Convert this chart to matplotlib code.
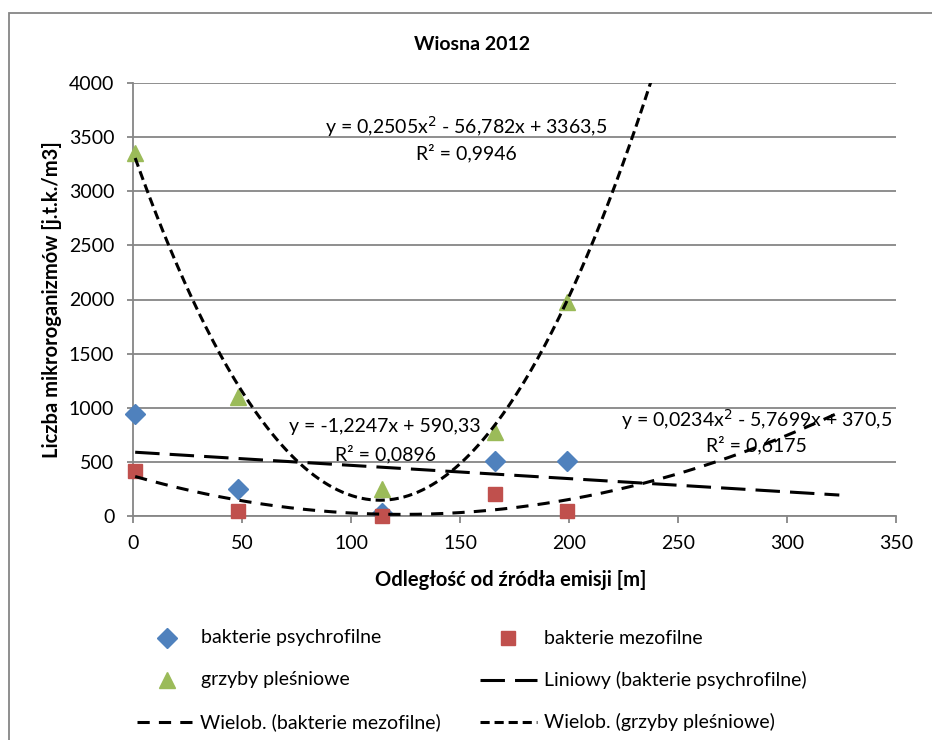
import numpy as np
import matplotlib

matplotlib.use("Agg")
import matplotlib.pyplot as plt
from matplotlib.lines import Line2D
from matplotlib.patches import Rectangle

plt.rcParams["font.family"] = ["Lato", "DejaVu Sans"]

W, H = 932, 740
FS = 14

# data
odleglosc = [1, 48, 114, 166, 199]
psychro = [940, 250, 25, 510, 510]
mezo = [415, 45, 0, 200, 45]
grzyby = [3350, 1100, 250, 780, 1980]

# trendline coefficients as printed on the chart (highest power first)
coef_psychro = [-1.2247, 590.33]
coef_mezo = [0.0234, -5.7699, 370.5]
coef_grzyby = [0.2505, -56.782, 3363.5]
trend_end = 324

eq_psychro = ["y = -1,2247x + 590,33", "R² = 0,0896"]
eq_mezo = ["y = 0,0234x$^{2}$ - 5,7699x + 370,5", "R² = 0,6175"]
eq_grzyby = ["y = 0,2505x$^{2}$ - 56,782x + 3363,5", "R² = 0,9946"]

BLUE, RED, GREEN = "#4F81BD", "#C0504D", "#9BBB59"
GRID = "#868686"

# dash patterns in linewidth units
LONG_DASH = (0, (8, 3.3))
DASH = (0, (4, 3))
SHORT_DASH = (0, (3, 1.6))

fig = plt.figure(figsize=(W / 100, H / 100), dpi=100)
ax = fig.add_axes([133 / W, 1 - 516 / H, (896 - 133) / W, (516 - 83) / H])

ax.plot(odleglosc, psychro, "D", color=BLUE, ms=10, mec=BLUE, clip_on=False, zorder=3)
ax.plot(odleglosc, mezo, "s", color=RED, ms=10.5, mec=RED, clip_on=False, zorder=3)
ax.plot(odleglosc, grzyby, "^", color=GREEN, ms=11, mec=GREEN, clip_on=False, zorder=3)

xt = np.linspace(odleglosc[0], trend_end, 300)
ax.plot(xt, np.polyval(coef_psychro, xt), color="black", lw=2.2, ls=LONG_DASH, zorder=4)
ax.plot(xt, np.polyval(coef_mezo, xt), color="black", lw=2.2, ls=DASH, zorder=4)
ax.plot(xt, np.polyval(coef_grzyby, xt), color="black", lw=2.2, ls=SHORT_DASH, zorder=4)

ax.set_xlim(0, 350)
ax.set_ylim(0, 4000)
ax.set_xticks(range(0, 351, 50))
ax.set_yticks(range(0, 4001, 500))
ax.yaxis.grid(True, color=GRID, lw=1.3)
ax.set_axisbelow(True)
for s in ["top", "right"]:
    ax.spines[s].set_visible(False)
for s in ["left", "bottom"]:
    ax.spines[s].set_color(GRID)
    ax.spines[s].set_linewidth(1.3)
ax.tick_params(axis="y", direction="out", length=4.5, width=1.3, color=GRID,
               labelsize=FS, pad=9)
ax.tick_params(axis="x", direction="out", length=5, width=1.3, color=GRID,
               labelsize=FS, pad=9)

# equation labels
for (l1, l2), (x, y1, y2) in [
    (eq_grzyby, (153, 3602, 3350)),
    (eq_psychro, (115.6, 824, 574)),
    (eq_mezo, (286, 889, 657)),
]:
    ax.text(x, y1, l1, ha="center", va="center", fontsize=FS, zorder=5)
    ax.text(x, y2, l2, ha="center", va="center", fontsize=FS, zorder=5)

fig.text(472 / W, 1 - 44 / H, "Wiosna 2012", ha="center", va="center",
         fontsize=FS, fontweight="bold")
fig.text(511 / W, 1 - 580 / H, "Odległość od źródła emisji [m]", ha="center",
         va="center", fontsize=FS + 0.5, fontweight="bold")
fig.text(52 / W, 1 - 300 / H, "Liczba mikroroganizmów [j.t.k./m3]", ha="center",
         va="center", fontsize=FS + 0.5, fontweight="bold", rotation=90)

# chart area border (cut off at right and bottom)
fig.add_artist(Rectangle((9 / W, -0.1), 1.2, 1 - 13 / H + 0.1, transform=fig.transFigure,
                         fill=False, edgecolor=GRID, lw=1.3))

# legend drawn by hand in Excel layout
def fx(px):
    return px / W


def fy(py):
    return 1 - py / H


legend_rows = [
    (167, 638, dict(marker="D", color=BLUE, ms=10), 201, "bakterie psychrofilne"),
    (508, 638, dict(marker="s", color=RED, ms=10.5), 544, "bakterie mezofilne"),
    (167, 680, dict(marker="^", color=GREEN, ms=11), 201, "grzyby pleśniowe"),
]
for mx, my, style, tx, label in legend_rows:
    fig.add_artist(Line2D([fx(mx)], [fy(my)], linestyle="none", mec=style["color"],
                          **style))
    fig.text(fx(tx), fy(my), label, ha="left", va="center", fontsize=FS)

legend_lines = [
    (480, 537, 680, LONG_DASH, 544, "Liniowy (bakterie psychrofilne)"),
    (137, 193, 722, DASH, 200, "Wielob. (bakterie mezofilne)"),
    (480, 537, 722, SHORT_DASH, 544, "Wielob. (grzyby pleśniowe)"),
]
for x0, x1, ly, ls, tx, label in legend_lines:
    fig.add_artist(Line2D([fx(x0), fx(x1)], [fy(ly), fy(ly)], color="black", lw=2.2, ls=ls))
    fig.text(fx(tx), fy(ly), label, ha="left", va="center", fontsize=FS)

fig.savefig("out.png", dpi=100)
